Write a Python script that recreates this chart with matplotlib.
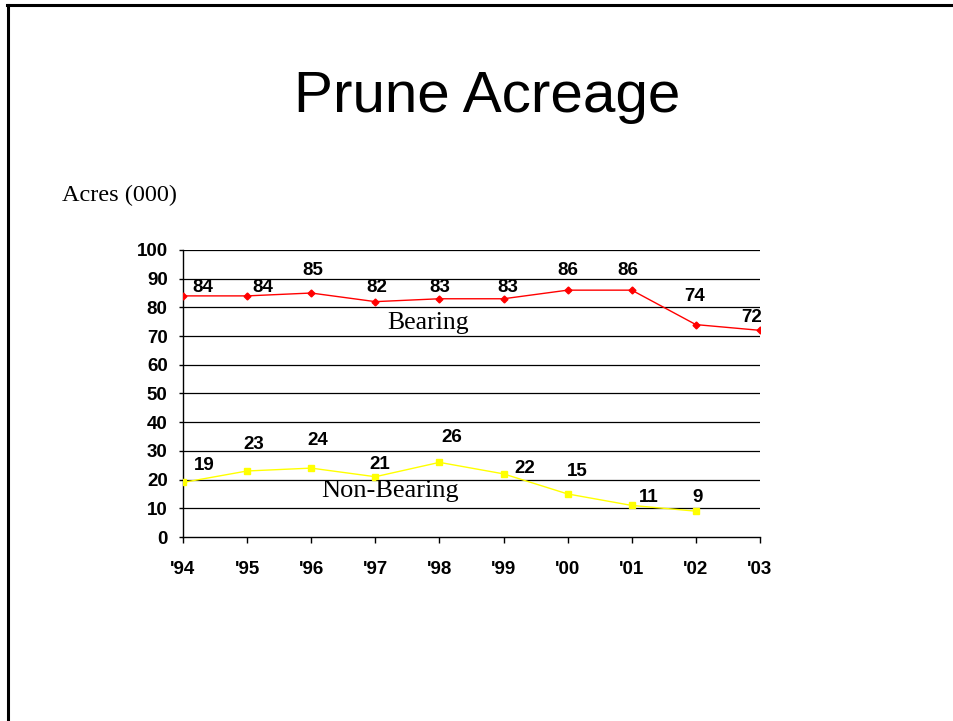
import matplotlib.pyplot as plt
from matplotlib.lines import Line2D

# data
years = ["'94", "'95", "'96", "'97", "'98", "'99", "'00", "'01", "'02", "'03"]
bearing = [84, 84, 85, 82, 83, 83, 86, 86, 74, 72]
non_bearing = [19, 23, 24, 21, 26, 22, 15, 11, 9]

# label offsets (points) as placed on the original slide
bearing_offsets = [(14, 6), (11, 6), (1, 16), (1, 10), (0, 8), (3, 8), (0, 14), (-3, 14), (-1, 20), (-6, 9)]
non_bearing_offsets = [(15, 12), (5, 19), (5, 20), (3, 9), (9, 18), (15, 4), (7, 16), (12, 6), (1, 10)]

fig = plt.figure(figsize=(9.54, 7.21), dpi=100)
ax = fig.add_axes([0.1918, 0.2552, 0.6048, 0.3981])

x_b = list(range(len(bearing)))
x_n = list(range(len(non_bearing)))

ax.plot(x_b, bearing, color='#FF0000', lw=1, marker='D', ms=3.5, zorder=3)
ax.plot(x_n, non_bearing, color='#FFFF00', lw=1, marker='s', ms=4, zorder=3)

lbl = dict(ha='center', va='center', fontsize=13.5, fontweight='bold',
           family='Liberation Sans', textcoords='offset points')
for x, v, off in zip(x_b, bearing, bearing_offsets):
    ax.annotate(str(v), (x, v), xytext=off, **lbl)
for x, v, off in zip(x_n, non_bearing, non_bearing_offsets):
    ax.annotate(str(v), (x, v), xytext=off, **lbl)

ax.text(3.83, 74.5, 'Bearing', family='Liberation Serif', fontsize=18.5,
        ha='center', va='center')
ax.text(3.23, 16.2, 'Non-Bearing', family='Liberation Serif', fontsize=19,
        ha='center', va='center')

ax.set_xlim(0, len(years) - 1)
ax.set_ylim(0, 100)
ax.set_yticks(range(0, 101, 10))
ax.set_xticks(x_b)
ax.set_xticklabels(years)
for y in range(10, 101, 10):
    ax.axhline(y, color='black', lw=0.9, zorder=1)

for s in ['top', 'right']:
    ax.spines[s].set_visible(False)
for s in ['left', 'bottom']:
    ax.spines[s].set_linewidth(1)
ax.tick_params(axis='y', length=3, width=1, pad=8)
ax.tick_params(axis='x', length=4.5, width=1, pad=13)
for t in ax.get_xticklabels() + ax.get_yticklabels():
    t.set_fontsize(13.5)
    t.set_fontweight('bold')
    t.set_family('Liberation Sans')

fig.text(0.511, 0.866, 'Prune Acreage', family='Liberation Sans', fontsize=42,
         ha='center', va='center')
fig.text(0.065, 0.729, 'Acres (000)', family='Liberation Serif', fontsize=17.5,
         ha='left', va='center')

# slide frame (top and left edges)
fig.add_artist(Line2D([0.0078, 1.0], [0.9935, 0.9935], color='black', lw=2.2,
                      transform=fig.transFigure))
fig.add_artist(Line2D([0.0084, 0.0084], [0.0, 0.9935], color='black', lw=2.2,
                      transform=fig.transFigure))

fig.savefig('out.png', dpi=100)
